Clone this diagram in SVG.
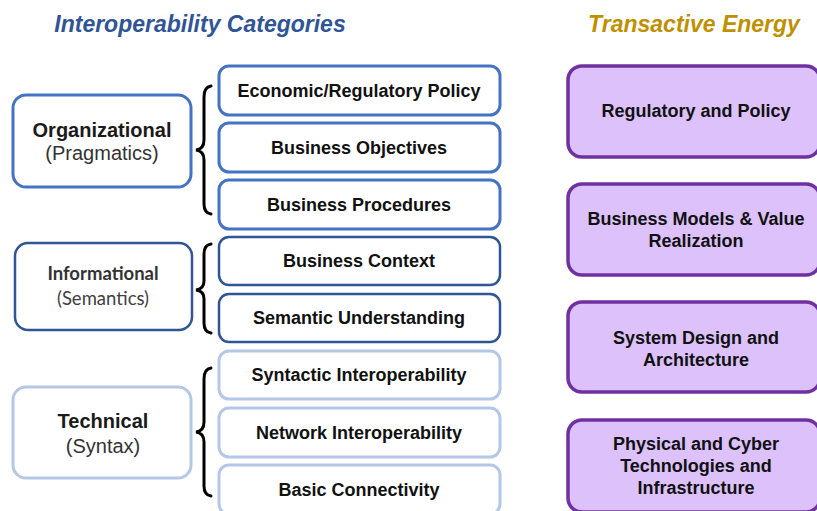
<svg xmlns="http://www.w3.org/2000/svg" width="817" height="511" viewBox="0 0 817 511">
<style>
.title{font-family:"Liberation Sans",Arial,sans-serif;font-size:23px;font-weight:bold;font-style:italic;text-anchor:middle}
.t{font-family:"Liberation Sans",Arial,sans-serif;font-size:18px;font-weight:bold;fill:#111;text-anchor:middle}
.lb{font-family:"Liberation Sans",Arial,sans-serif;font-size:20px;font-weight:bold;fill:#1a1a1a;text-anchor:middle}
.ln{font-family:"Liberation Sans",Arial,sans-serif;font-size:20px;fill:#333;text-anchor:middle}
.cb{font-family:Lato,"Liberation Sans",sans-serif;font-size:18.5px;font-weight:bold;fill:#333;text-anchor:middle}
.cn{font-family:Lato,"Liberation Sans",sans-serif;font-size:18.5px;fill:#404040;text-anchor:middle}
.b1{fill:#fff;stroke:#4472C4;stroke-width:3}
.b2{fill:#fff;stroke:#2F5597;stroke-width:2.5}
.b3{fill:#fff;stroke:#B4C7E7;stroke-width:3}
.p{fill:#DCC1FB;stroke:#7030A0;stroke-width:3.5}
.brace{fill:none;stroke:#000;stroke-width:3;stroke-linecap:round}
</style>
<text class="title" x="200" y="32" fill="#2F5597">Interoperability Categories</text>
<text class="title" x="694" y="32" fill="#BF9000">Transactive Energy</text>

<g id="organizational"><rect class="b1" x="13" y="95" width="178" height="92" rx="13"/><text class="lb" x="102" y="137">Organizational</text><text class="ln" x="102" y="160">(Pragmatics)</text></g>
<g id="informational"><rect class="b2" x="15" y="243" width="177" height="87" rx="13"/><text class="cb" x="103" y="280">Informational</text><text class="cn" x="103" y="305">(Semantics)</text></g>
<g id="technical"><rect class="b3" x="13" y="387" width="178" height="91" rx="13"/><text class="lb" x="103" y="428">Technical</text><text class="ln" x="103" y="453">(Syntax)</text></g>

<g id="braces">
<path class="brace" d="M211,86 Q204,87 204,97 L204,140 Q204,149 196,150 Q204,151 204,160 L204,204 Q204,213 211,214"/>
<path class="brace" d="M211,244 Q204,245 204,254 L204,281 Q204,289 196,290 Q204,291 204,299 L204,323 Q204,332 211,333"/>
<path class="brace" d="M211,368 Q204,369 204,379 L204,422 Q204,431 196,432 Q204,433 204,442 L204,486 Q204,495 211,496"/>
</g>

<g id="econ"><rect class="b1" x="219" y="66" width="281" height="49" rx="10"/><text class="t" x="359" y="97">Economic/Regulatory Policy</text></g>
<g id="bizobj"><rect class="b1" x="219" y="123" width="281" height="49" rx="10"/><text class="t" x="359" y="154">Business Objectives</text></g>
<g id="bizproc"><rect class="b1" x="219" y="180" width="281" height="49" rx="10"/><text class="t" x="359" y="211">Business Procedures</text></g>
<g id="bizctx"><rect class="b2" x="219" y="237" width="281" height="48" rx="10"/><text class="t" x="359" y="267">Business Context</text></g>
<g id="semantic"><rect class="b2" x="219" y="294" width="281" height="48" rx="10"/><text class="t" x="359" y="324">Semantic Understanding</text></g>
<g id="syntactic"><rect class="b3" x="219" y="351" width="281" height="48" rx="10"/><text class="t" x="359" y="381">Syntactic Interoperability</text></g>
<g id="network"><rect class="b3" x="219" y="408" width="281" height="49" rx="10"/><text class="t" x="359" y="439">Network Interoperability</text></g>
<g id="basic"><rect class="b3" x="219" y="465" width="281" height="49" rx="10"/><text class="t" x="359" y="496">Basic Connectivity</text></g>

<g id="te-reg"><rect class="p" x="568" y="66" width="252" height="91" rx="14"/><text class="t" x="696" y="117">Regulatory and Policy</text></g>
<g id="te-biz"><rect class="p" x="568" y="184" width="252" height="91" rx="14"/><text class="t" x="696" y="225">Business Models &amp; Value</text><text class="t" x="696" y="247">Realization</text></g>
<g id="te-sys"><rect class="p" x="568" y="302" width="252" height="90" rx="14"/><text class="t" x="696" y="344">System Design and</text><text class="t" x="696" y="366">Architecture</text></g>
<g id="te-phys"><rect class="p" x="568" y="420" width="252" height="92" rx="14"/><text class="t" x="696" y="450">Physical and Cyber</text><text class="t" x="696" y="472">Technologies and</text><text class="t" x="696" y="494">Infrastructure</text></g>
</svg>
